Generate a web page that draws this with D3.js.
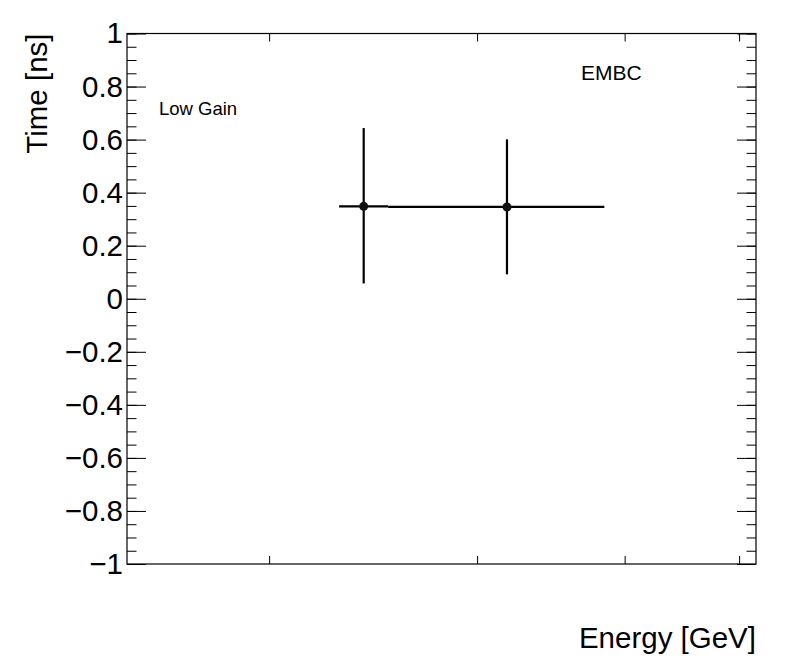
<!DOCTYPE html>
<html>
<head>
<meta charset="utf-8">
<script src="https://cdn.jsdelivr.net/npm/d3@7"></script>
<style>
  html, body { margin: 0; padding: 0; background: #fff; }
  svg { display: block; font-family: "Liberation Sans", Arial, Helvetica, sans-serif; }
</style>
</head>
<body>
<svg id="chart" width="796" height="672"></svg>
<script>
// ---- data ----
const energy      = [4.81, 6.36];      // GeV (point x)
const energyLow   = [4.585, 5.045];    // bin low edge
const energyHigh  = [5.045, 7.69];     // bin high edge
const timeNs      = [0.3485, 0.346];   // ns
const timeErrLow  = [0.291, 0.254];
const timeErrHigh = [0.295, 0.255];

const xDomain = [3.032, 10.335];
const xTicks  = [4, 6, 8, 10];
const yDomain = [-1, 1];
const yTicks  = [-1, -0.8, -0.6, -0.4, -0.2, 0, 0.2, 0.4, 0.6, 0.8, 1];
const yMinorTicks = d3.range(-20, 21).map(k => k * 0.05);

const xTitle = "Energy [GeV]";
const yTitle = "Time [ns]";
const label1 = "Low Gain";
const label2 = "EMBC";

// ---- layout ----
const L = 127, R = 756, T = 33.5, B = 564;
const svg = d3.select("#chart");

const x = d3.scaleLog().domain(xDomain).range([L, R]);
const y = d3.scaleLinear().domain(yDomain).range([B, T]);

const fmt = d3.format("~g");

// left axis major
svg.append("g").attr("transform", `translate(${L},0)`)
  .call(d3.axisLeft(y).tickValues(yTicks).tickFormat(fmt).tickSizeInner(-19).tickSizeOuter(0).tickPadding(4))
  .call(g => g.select(".domain").remove())
  .call(g => g.selectAll("line").attr("stroke", "#000"))
  .call(g => g.selectAll("text").attr("font-size", "29.5px").attr("fill", "#000"));
// left axis minor
svg.append("g").attr("transform", `translate(${L},0)`)
  .call(d3.axisLeft(y).tickValues(yMinorTicks).tickFormat("").tickSizeInner(-9.5).tickSizeOuter(0))
  .call(g => g.select(".domain").remove())
  .call(g => g.selectAll("line").attr("stroke", "#000"));
// right axis major + minor (mirror)
svg.append("g").attr("transform", `translate(${R},0)`)
  .call(d3.axisRight(y).tickValues(yTicks).tickFormat("").tickSizeInner(-19).tickSizeOuter(0))
  .call(g => g.select(".domain").remove())
  .call(g => g.selectAll("line").attr("stroke", "#000"));
svg.append("g").attr("transform", `translate(${R},0)`)
  .call(d3.axisRight(y).tickValues(yMinorTicks).tickFormat("").tickSizeInner(-9.5).tickSizeOuter(0))
  .call(g => g.select(".domain").remove())
  .call(g => g.selectAll("line").attr("stroke", "#000"));
// bottom axis (no labels)
svg.append("g").attr("transform", `translate(0,${B})`)
  .call(d3.axisBottom(x).tickValues(xTicks).tickFormat("").tickSizeInner(-8).tickSizeOuter(0))
  .call(g => g.select(".domain").remove())
  .call(g => g.selectAll("line").attr("stroke", "#000"));
// top axis
svg.append("g").attr("transform", `translate(0,${T})`)
  .call(d3.axisTop(x).tickValues(xTicks).tickFormat("").tickSizeInner(-8).tickSizeOuter(0))
  .call(g => g.select(".domain").remove())
  .call(g => g.selectAll("line").attr("stroke", "#000"));

// frame
svg.append("rect").attr("x", L).attr("y", T).attr("width", R - L).attr("height", B - T)
  .attr("fill", "none").attr("stroke", "#000").attr("stroke-width", 1.2);

// data
const pts = energy.map((e, i) => ({
  x: e, xl: energyLow[i], xh: energyHigh[i], y: timeNs[i], el: timeErrLow[i], eh: timeErrHigh[i]
}));
const gp = svg.append("g");
gp.selectAll(".xerr").data(pts).join("line")
  .attr("x1", d => x(d.xl)).attr("x2", d => x(d.xh))
  .attr("y1", d => y(d.y)).attr("y2", d => y(d.y))
  .attr("stroke", "#000").attr("stroke-width", 2.2);
gp.selectAll(".yerr").data(pts).join("line")
  .attr("x1", d => x(d.x)).attr("x2", d => x(d.x))
  .attr("y1", d => y(d.y - d.el)).attr("y2", d => y(d.y + d.eh))
  .attr("stroke", "#000").attr("stroke-width", 2.2);
gp.selectAll("circle").data(pts).join("circle")
  .attr("cx", d => x(d.x)).attr("cy", d => y(d.y)).attr("r", 4.5)
  .attr("fill", "#111");

// titles
svg.append("text").attr("x", R).attr("y", 648).attr("text-anchor", "end")
  .attr("font-size", "29.5px").attr("fill", "#000").text(xTitle);
svg.append("text").attr("transform", `translate(47,${T}) rotate(-90)`).attr("text-anchor", "end")
  .attr("font-size", "29.5px").attr("fill", "#000").text(yTitle);

// labels
svg.append("text").attr("x", 159).attr("y", 115).attr("font-size", "18.5px").attr("fill", "#000").text(label1);
svg.append("text").attr("x", 581).attr("y", 80).attr("font-size", "21px").attr("fill", "#000").text(label2);
</script>
</body>
</html>
